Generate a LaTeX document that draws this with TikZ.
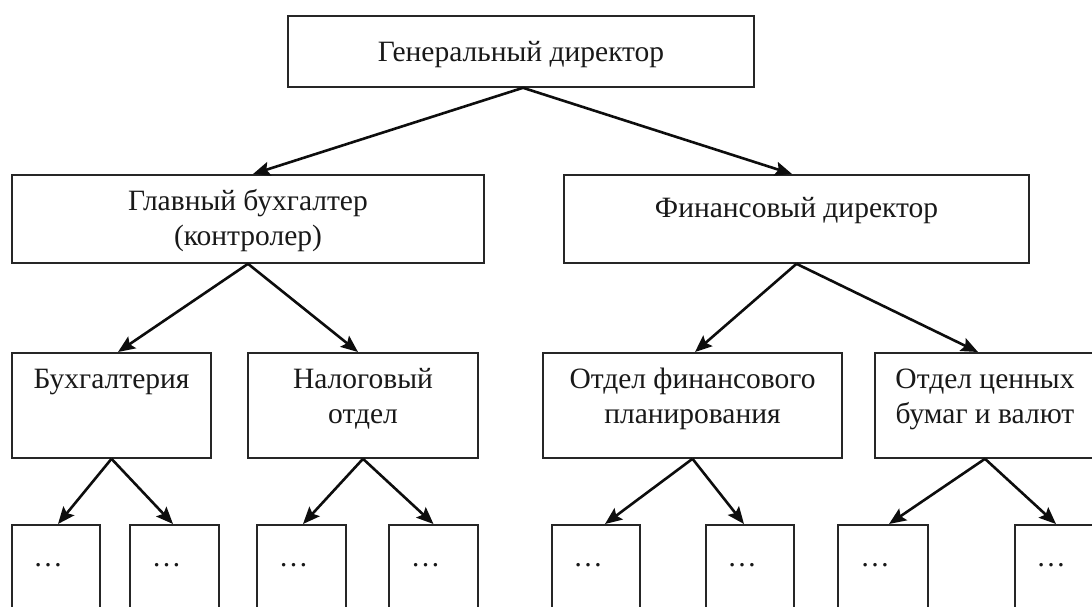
\documentclass[tikz,border=0pt]{standalone}
\usepackage{fontspec}
\setmainfont{Liberation Serif}
\usetikzlibrary{arrows.meta}
\tikzset{
  box/.style={draw=black!85, line width=1.8pt, rectangle, inner sep=0pt,
    minimum width=#1, anchor=north},
  txt/.style={anchor=north, align=center, inner sep=0pt,
    font=\fontsize{29.5}{35}\selectfont, text=black!90},
  dots/.style={anchor=base, inner sep=0pt, font=\fontsize{29.5}{35}\selectfont, text=black!90},
  arr/.style={line width=2.6pt, draw=black!95,
    -{Stealth[length=17pt,width=14pt,inset=3pt]}},
}
\begin{document}
\begin{tikzpicture}[x=1pt,y=-1pt]
\useasboundingbox (0,0) rectangle (1092,606);
\fill[white] (0,0) rectangle (1092,606);
\clip (0,0) rectangle (1092,606);
% row 1
\node[box=466pt, minimum height=71pt] (top) at (521,15) {};
% row 2
\node[box=472pt, minimum height=88pt] (gb) at (248,174) {};
\node[box=465pt, minimum height=88pt] (fd) at (796.5,174) {};
% row 3
\node[box=199pt, minimum height=105pt] (buh) at (111.5,352) {};
\node[box=230pt, minimum height=105pt] (nal) at (363,352) {};
\node[box=299pt, minimum height=105pt] (fin) at (692.5,352) {};
\node[box=220pt, minimum height=105pt] (cen) at (985,352) {};
% row 4
\node[box=88pt, minimum height=105pt] (d1) at (56,524) {};
\node[box=89pt, minimum height=105pt] (d2) at (174.5,524) {};
\node[box=89pt, minimum height=105pt] (d3) at (301.5,524) {};
\node[box=89pt, minimum height=105pt] (d4) at (433.5,524) {};
\node[box=88pt, minimum height=105pt] (d5) at (596,524) {};
\node[box=88pt, minimum height=105pt] (d6) at (750,524) {};
\node[box=90pt, minimum height=105pt] (d7) at (883,524) {};
\node[box=88pt, minimum height=105pt] (d8) at (1059,524) {};
% texts
\node[txt] (topt) at ([yshift=-22pt]top.north) {\strut Генеральный директор};
\node[txt] (gbt) at ([yshift=-11.5pt]gb.north) {\strut Главный бухгалтер\\(контролер)};
\node[txt] (fdt) at ([yshift=-19pt]fd.north) {\strut Финансовый директор};
\node[txt] (buht) at ([yshift=-11.5pt]buh.north) {\strut Бухгалтерия};
\node[txt] (nalt) at ([yshift=-11.5pt]nal.north) {\strut Налоговый\\отдел};
\node[txt] (fint) at ([yshift=-11.5pt]fin.north) {\strut Отдел финансового\\планирования};
\node[txt] (cent) at ([yshift=-11.5pt]cen.north) {\strut Отдел ценных\\бумаг и валют};
\foreach \n in {d1,d2,d3,d4,d5,d6,d7,d8}{
  \node[dots] (\n t) at ([xshift=-8pt,yshift=-42pt]\n.north) {…};
}
% arrows
\draw[arr] ([xshift=2pt]top.south) -- ([xshift=5pt]gb.north);
\draw[arr] ([xshift=2pt]top.south) -- ([xshift=-4.5pt]fd.north);
\draw[arr] (gb.south) -- ([xshift=6.5pt]buh.north);
\draw[arr] (gb.south) -- ([xshift=-5pt]nal.north);
\draw[arr] (fd.south) -- ([xshift=2.5pt]fin.north);
\draw[arr] (fd.south) -- ([xshift=-7pt]cen.north);
\draw[arr] (buh.south) -- ([xshift=2pt]d1.north);
\draw[arr] (buh.south) -- ([xshift=-1.5pt]d2.north);
\draw[arr] (nal.south) -- ([xshift=1.5pt]d3.north);
\draw[arr] (nal.south) -- (d4.north);
\draw[arr] (fin.south) -- ([xshift=9pt]d5.north);
\draw[arr] (fin.south) -- ([xshift=-6pt]d6.north);
\draw[arr] (cen.south) -- ([xshift=6pt]d7.north);
\draw[arr] (cen.south) -- ([xshift=-3pt]d8.north);
\end{tikzpicture}
\end{document}
